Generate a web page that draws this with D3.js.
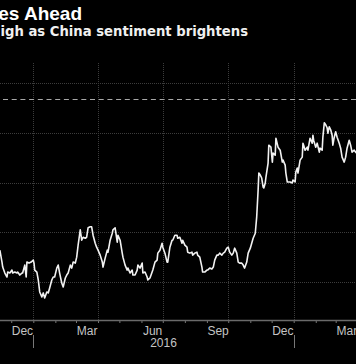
<!DOCTYPE html>
<html><head><meta charset="utf-8">
<script src="https://cdn.jsdelivr.net/npm/d3@7"></script>
<style>html,body{margin:0;padding:0;background:#000;overflow:hidden;} svg{display:block;}</style>
</head><body>
<svg id="chart" width="356" height="364"></svg>
<script>
const titleText = "es Ahead";
const subtitleText = "igh as China sentiment brightens";

const dates = [
"2015-11-15","2015-11-18","2015-11-19","2015-11-22","2015-11-25","2015-11-26","2015-11-29",
"2015-12-02","2015-12-03","2015-12-06","2015-12-09","2015-12-10","2015-12-13","2015-12-16","2015-12-17",
"2015-12-20","2015-12-22","2015-12-23","2015-12-26","2015-12-29",
"2016-01-01","2016-01-02","2016-01-03","2016-01-06","2016-01-08","2016-01-10","2016-01-13","2016-01-15",
"2016-01-17","2016-01-20","2016-01-22","2016-01-24","2016-01-27","2016-01-29","2016-01-31",
"2016-02-03","2016-02-05","2016-02-07","2016-02-10","2016-02-12","2016-02-15","2016-02-17","2016-02-19",
"2016-02-22","2016-02-24","2016-02-26","2016-02-29",
"2016-03-02","2016-03-04","2016-03-07","2016-03-09","2016-03-11","2016-03-14","2016-03-16","2016-03-18",
"2016-03-21","2016-03-23","2016-03-25","2016-03-28","2016-03-30",
"2016-04-01","2016-04-04","2016-04-07","2016-04-08","2016-04-11","2016-04-14","2016-04-15","2016-04-18",
"2016-04-21","2016-04-22","2016-04-25","2016-04-28","2016-04-29",
"2016-05-02","2016-05-05","2016-05-06","2016-05-09","2016-05-12","2016-05-13","2016-05-16","2016-05-19",
"2016-05-20","2016-05-23","2016-05-26","2016-05-27","2016-05-30",
"2016-06-02","2016-06-03","2016-06-06","2016-06-09","2016-06-10","2016-06-13","2016-06-16","2016-06-17",
"2016-06-20","2016-06-23","2016-06-24","2016-06-27","2016-06-30",
"2016-07-01","2016-07-04","2016-07-07","2016-07-08","2016-07-11","2016-07-14","2016-07-15","2016-07-18",
"2016-07-21","2016-07-22","2016-07-25","2016-07-28","2016-07-29",
"2016-08-01","2016-08-04","2016-08-05","2016-08-08","2016-08-11","2016-08-12","2016-08-15","2016-08-18",
"2016-08-19","2016-08-22","2016-08-25","2016-08-26","2016-08-29",
"2016-09-01","2016-09-02","2016-09-05","2016-09-08","2016-09-10","2016-09-12","2016-09-15","2016-09-17",
"2016-09-19","2016-09-22","2016-09-24","2016-09-26","2016-09-29",
"2016-10-01","2016-10-03","2016-10-06","2016-10-08","2016-10-10","2016-10-13","2016-10-15","2016-10-17",
"2016-10-20","2016-10-22","2016-10-24","2016-10-27","2016-10-29",
"2016-11-01","2016-11-03","2016-11-05","2016-11-08","2016-11-10","2016-11-12","2016-11-13","2016-11-15",
"2016-11-17","2016-11-19","2016-11-20","2016-11-22","2016-11-23","2016-11-26","2016-11-27","2016-11-30",
"2016-12-02","2016-12-03","2016-12-06","2016-12-07","2016-12-10","2016-12-13","2016-12-16","2016-12-17",
"2016-12-20","2016-12-21","2016-12-23","2016-12-24","2016-12-27","2016-12-30","2016-12-31",
"2017-01-03","2017-01-04","2017-01-06","2017-01-07","2017-01-10","2017-01-13","2017-01-14","2017-01-15",
"2017-01-17","2017-01-20","2017-01-21","2017-01-24","2017-01-27","2017-01-28","2017-01-29",
"2017-02-01","2017-02-03","2017-02-06","2017-02-07","2017-02-10","2017-02-11","2017-02-13","2017-02-15",
"2017-02-17","2017-02-18","2017-02-20","2017-02-22","2017-02-24","2017-02-25","2017-02-27",
"2017-03-01","2017-03-03","2017-03-06","2017-03-08","2017-03-10","2017-03-13","2017-03-15","2017-03-17",
"2017-03-20","2017-03-22","2017-03-24","2017-03-27","2017-03-30"
];

const values = [
86.4,84.0,83.0,81.8,81.0,82.0,81.8,
82.4,81.8,82.0,81.8,82.0,81.4,81.8,81.8,
83.4,81.0,84.0,83.8,84.0,
84.4,83.8,82.4,82.0,80.4,78.0,77.0,77.8,
76.8,78.0,77.8,78.8,80.4,81.0,81.0,
82.8,83.4,81.8,79.8,79.0,80.8,81.4,81.8,
83.4,82.8,84.0,83.8,
85.0,87.4,90.5,88.4,89.0,88.8,89.0,90.9,
91.1,91.1,89.4,87.8,87.0,
86.4,85.4,84.0,83.0,84.8,86.4,86.0,88.4,
89.8,90.5,90.9,88.0,89.4,
88.4,85.8,85.0,83.4,82.4,82.8,81.8,82.4,
81.4,81.4,82.4,83.4,82.8,
83.8,81.8,82.0,81.0,80.4,80.8,82.0,82.4,
84.0,84.4,85.8,86.4,87.8,
87.0,85.8,84.0,84.0,87.0,88.4,88.4,89.4,
89.4,88.8,89.0,87.8,88.4,
87.4,87.0,86.0,85.8,86.0,85.4,85.8,86.0,
85.4,85.0,83.0,82.0,82.0,
82.4,82.4,82.8,82.6,83.0,84.4,85.4,85.4,
85.8,85.4,85.8,86.0,86.8,
87.0,86.0,85.4,85.8,86.8,85.8,84.0,83.8,
83.8,83.4,82.8,84.0,85.8,
86.8,87.8,88.8,89.8,93.1,98.5,101.9,101.5,
100.9,99.1,98.9,99.9,101.1,103.9,107.5,107.1,
104.1,105.9,105.5,108.9,107.1,106.5,104.1,104.5,
103.5,101.9,100.1,100.1,100.1,99.9,100.5,
100.1,102.1,102.9,101.9,104.5,105.1,107.9,107.5,
106.5,107.1,106.5,108.9,107.9,109.5,108.5,
107.1,107.9,106.1,106.9,106.5,109.1,112.0,111.6,
111.0,109.9,111.2,110.6,109.5,107.5,109.1,
110.2,109.1,107.9,106.9,105.1,104.1,105.1,106.9,
108.5,107.5,106.1,106.5,105.9
];

const yTicks = [80, 90, 100, 110, 120];
const referenceLevel = 116.7;
const gridDates = ["2016-01-01","2016-04-01","2016-07-01","2016-10-01","2017-01-01"];
const monthLabels = ["Dec","Mar","Jun","Sep","Dec","Mar"];
const monthLabelDates = ["2015-12-16","2016-03-16","2016-06-16","2016-09-16","2016-12-16","2017-03-16"];
const yearLabels = ["2016"];
const yearStarts = ["2016-01-01","2017-01-01"];

const W = 356, H = 364;
const plotTop = 63, plotBottom = 320;
const parse = d3.utcParse("%Y-%m-%d");

const data = dates.map((d, i) => ({date: parse(d), value: values[i]}));

const x = d3.scaleUtc()
  .domain([parse("2016-01-01"), parse("2017-01-01")])
  .range([33.3, 293.7]);
const y = d3.scaleLinear().domain([80, 120]).range([282, 83]);

const svg = d3.select("#chart");
svg.append("rect").attr("width", W).attr("height", H).attr("fill", "#000");

// horizontal gridlines
svg.append("g").selectAll("line").data(yTicks).join("line")
  .attr("x1", 0).attr("x2", W)
  .attr("y1", d => Math.round(y(d)) + 0.5).attr("y2", d => Math.round(y(d)) + 0.5)
  .attr("stroke", "#3c3c3c").attr("stroke-width", 1).attr("stroke-dasharray", "1,1");

// vertical gridlines
svg.append("g").selectAll("line").data(gridDates.map(parse)).join("line")
  .attr("x1", d => Math.round(x(d)) + 0.5).attr("x2", d => Math.round(x(d)) + 0.5)
  .attr("y1", plotTop).attr("y2", plotBottom)
  .attr("stroke", "#3c3c3c").attr("stroke-width", 1).attr("stroke-dasharray", "1,1");

// dashed reference line
svg.append("line")
  .attr("x1", 3).attr("x2", W)
  .attr("y1", Math.round(y(referenceLevel)) + 0.5).attr("y2", Math.round(y(referenceLevel)) + 0.5)
  .attr("stroke", "#a8a8a8").attr("stroke-width", 1.2).attr("stroke-dasharray", "5,3.7");

// data line
svg.append("path").datum(data)
  .attr("fill", "none").attr("stroke", "#f2f2f2").attr("stroke-width", 1.6)
  .attr("stroke-linejoin", "round")
  .attr("d", d3.line().x(d => x(d.date)).y(d => y(d.value)));

// x axis: baseline + month ticks
const monthTicks = d3.utcMonth.range(x.invert(0), x.invert(W));
const tickAxis = d3.axisBottom(x).tickValues(monthTicks).tickSize(3).tickFormat("");
const gT = svg.append("g").attr("transform", `translate(0,${plotBottom})`).call(tickAxis);
gT.select(".domain").remove();
gT.selectAll(".tick line").attr("stroke", "#777");
svg.append("line").attr("x1", 0).attr("x2", W)
  .attr("y1", plotBottom + 0.5).attr("y2", plotBottom + 0.5)
  .attr("stroke", "#6a6a6a").attr("stroke-width", 1.5);

// month labels
const labelAxis = d3.axisBottom(x).tickValues(monthLabelDates.map(parse))
  .tickSize(0).tickPadding(6).tickFormat((d, i) => monthLabels[i]);
const gL = svg.append("g").attr("transform", `translate(0,${plotBottom})`).call(labelAxis);
gL.select(".domain").remove();
gL.selectAll("text").attr("fill", "#c4c4c4")
  .attr("font-family", "'Liberation Sans', Arial, sans-serif").attr("font-size", 12);

// year separators and labels
svg.append("g").selectAll("line").data(yearStarts.map(parse)).join("line")
  .attr("x1", d => Math.round(x(d)) + 0.5).attr("x2", d => Math.round(x(d)) + 0.5)
  .attr("y1", 335).attr("y2", 348).attr("stroke", "#777").attr("stroke-width", 1);
svg.append("g").selectAll("text").data(yearLabels).join("text")
  .attr("x", (d, i) => (x(parse(yearStarts[i])) + x(parse(yearStarts[i + 1]))) / 2)
  .attr("y", 347).attr("text-anchor", "middle")
  .attr("fill", "#c4c4c4").attr("font-family", "'Liberation Sans', Arial, sans-serif").attr("font-size", 12)
  .text(d => d);

// title & subtitle
svg.append("text").attr("x", 82).attr("y", 20).attr("text-anchor", "end")
  .attr("fill", "#fff").attr("font-family", "'Liberation Sans', Arial, sans-serif")
  .attr("font-weight", "bold").attr("font-size", 19).text(titleText);
svg.append("text").attr("x", 248).attr("y", 36).attr("text-anchor", "end")
  .attr("fill", "#f0f0f0").attr("font-family", "'DejaVu Sans', Verdana, sans-serif")
  .attr("font-weight", "bold").attr("font-size", 13.2).text(subtitleText);
</script>
</body></html>
